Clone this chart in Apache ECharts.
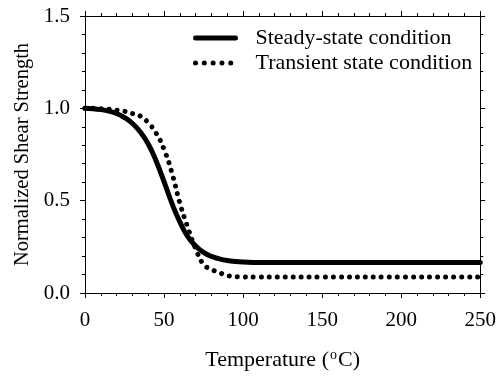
<!DOCTYPE html>
<html>
<head>
<meta charset="utf-8">
<script src="https://cdn.jsdelivr.net/npm/echarts@6/dist/echarts.min.js"></script>
<style>
    html, body { margin: 0; padding: 0; background: #fff; }
    #main { width: 499px; height: 376px; }
</style>
</head>
<body>
<div id="main"></div>
<script>
// 温度 (°C)
var steadyTemp = [0, 5, 10, 15, 20, 25, 30, 35, 40, 45, 50, 55, 60, 65, 70, 75, 80, 85, 90, 95, 100, 110, 120, 150, 200, 250];
var steadyVal = [1.0, 0.998, 0.993, 0.985, 0.972, 0.95, 0.918, 0.872, 0.807, 0.715, 0.603, 0.485, 0.385, 0.305, 0.255, 0.22, 0.198, 0.185, 0.176, 0.171, 0.168, 0.165, 0.165, 0.165, 0.165, 0.165];
var transTemp = [0, 5, 10, 15, 20, 25, 30, 35, 40, 45, 50, 55, 60, 65, 70, 75, 80, 85, 90, 95, 100, 110, 150, 200, 250];
var transVal = [1.0, 1.0, 0.998, 0.995, 0.99, 0.984, 0.972, 0.958, 0.922, 0.865, 0.778, 0.65, 0.487, 0.355, 0.24, 0.155, 0.128, 0.11, 0.095, 0.089, 0.087, 0.086, 0.086, 0.086, 0.086];
var xTicks = [0, 50, 100, 150, 200, 250];
var yTicks = [0.0, 0.5, 1.0, 1.5];

var seriesNames = ['Steady-state condition', 'Transient state condition'];

function toPairs(xs, ys) {
    var arr = [];
    for (var i = 0; i < xs.length; i++) {
        arr.push([xs[i], ys[i]]);
    }
    return arr;
}

var font = 'Liberation Serif';
var black = '#000';

//四周坐标轴，刻度朝外
function makeAxis(pos, isX, showLabel) {
    var ticks = isX ? xTicks : yTicks;
    return {
        type: 'value',
        position: pos,
        min: ticks[0],
        max: ticks[ticks.length - 1],
        interval: ticks[1] - ticks[0],
        axisLine: { show: true, onZero: false, lineStyle: { color: black, width: 1 } },
        axisTick: { show: true, inside: false, length: 5, lineStyle: { color: black } },
        minorTick: { show: true, splitNumber: 5, length: 3, lineStyle: { color: black } },
        splitLine: { show: false },
        axisLabel: {
            show: showLabel,
            color: black,
            fontFamily: font,
            fontSize: 21,
            margin: isX ? 17 : 15,
            formatter: function (v) { return isX ? String(v) : v.toFixed(1); }
        }
    };
}

var xBottom = makeAxis('bottom', true, true);
xBottom.name = 'Temperature ({sup|o}C)';
xBottom.nameLocation = 'middle';
xBottom.nameGap = 55;
xBottom.nameTextStyle = {
    color: black, fontFamily: font, fontSize: 22,
    rich: { sup: { fontFamily: font, fontSize: 14, color: black, verticalAlign: 'top', padding: [0, 1, 10, 1] } }
};
var xTop = makeAxis('top', true, false);

var yLeft = makeAxis('left', false, true);
yLeft.name = 'Normalized Shear Strength';
yLeft.nameLocation = 'middle';
yLeft.nameGap = 51;
yLeft.nameTextStyle = { color: black, fontFamily: font, fontSize: 20.5 };
var yRight = makeAxis('right', false, false);

var myChart = echarts.init(document.getElementById('main'), null, { renderer: 'canvas' });
var option = {
    animation: false,
    backgroundColor: '#fff',
    grid: { left: 85, right: 18, top: 16, bottom: 83, containLabel: false },
    legend: {
        orient: 'vertical',
        left: 193,
        top: 27,
        padding: 0,
        itemWidth: 40,
        itemHeight: 22,
        itemGap: 3,
        itemStyle: { opacity: 0 },
        lineStyle: { width: 5, cap: 'round' },
        textStyle: { color: black, fontFamily: font, fontSize: 22, padding: [0, 0, 0, 15] },
        data: [
            { name: seriesNames[0] },
            { name: seriesNames[1], lineStyle: { type: [0.01, 8.8], width: 5, cap: 'round' } }
        ]
    },
    xAxis: [xBottom, xTop],
    yAxis: [yLeft, yRight],
    series: [
        {
            name: seriesNames[0],
            type: 'line',
            xAxisIndex: 0,
            yAxisIndex: 0,
            smooth: true,
            showSymbol: false,
            symbol: 'none',
            lineStyle: { color: black, width: 5, cap: 'round', join: 'round' },
            itemStyle: { color: black },
            data: toPairs(steadyTemp, steadyVal)
        },
        {
            name: seriesNames[1],
            type: 'line',
            xAxisIndex: 0,
            yAxisIndex: 0,
            smooth: true,
            showSymbol: false,
            symbol: 'none',
            lineStyle: { color: black, width: 5, type: [0.01, 8], cap: 'round' },
            itemStyle: { color: black },
            data: toPairs(transTemp, transVal)
        }
    ]
};
myChart.setOption(option);
</script>
</body>
</html>
